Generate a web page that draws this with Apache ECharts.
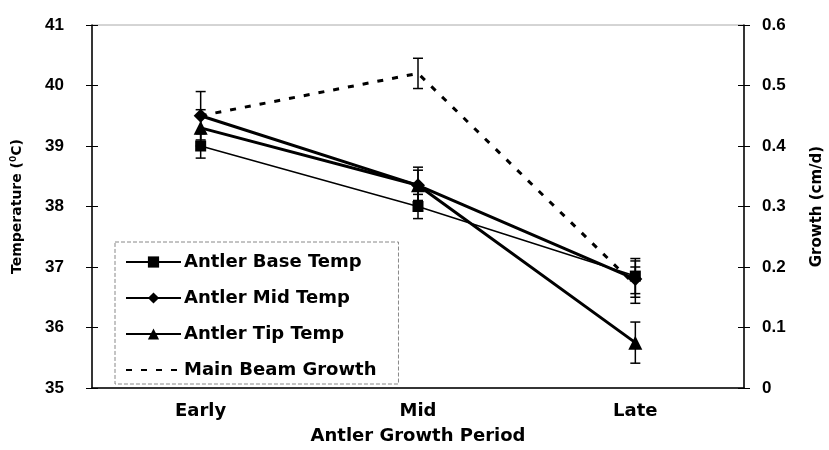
<!DOCTYPE html>
<html lang="en">
<head>
<meta charset="UTF-8">
<title>Antler temperature and growth</title>
<script src="https://cdn.jsdelivr.net/npm/echarts@6/dist/echarts.min.js"></script>
<style>
  html, body { margin: 0; padding: 0; background: #fff; }
  #chart { width: 829px; height: 450px; }
</style>
</head>
<body>
<div id="chart"></div>
<script>
var periods = ['Early', 'Mid', 'Late'];

var baseTemp = [39.0, 38.0, 36.85];
var baseErr = [0.2, 0.2, 0.29];
var midTemp = [39.5, 38.35, 36.8];
var midErr = [0.4, 0.3, 0.3];
var tipTemp = [39.3, 38.35, 35.75];
var tipErr = [0.3, 0.25, 0.34];
var growth = [0.45, 0.52, 0.17];
var growthErr = [0, 0.025, 0.03];

var wide = 'DejaVu Sans, Verdana, sans-serif';
var narrow = 'Liberation Sans, Arial, sans-serif';

function errData(vals, errs) {
    return vals.map(function (v, i) { return [i, v - errs[i], v + errs[i]]; });
}

function errSeries(vals, errs, axis) {
    return {
        type: 'custom',
        yAxisIndex: axis,
        z: 1,
        silent: true,
        data: errData(vals, errs),
        renderItem: function (params, api) {
            if (api.value(1) === api.value(2)) return null;
            var lo = api.coord([api.value(0), api.value(1)]);
            var hi = api.coord([api.value(0), api.value(2)]);
            var w = 5;
            var st = { stroke: '#000', lineWidth: 1.5 };
            return {
                type: 'group',
                children: [
                    { type: 'line', shape: { x1: lo[0], y1: lo[1], x2: hi[0], y2: hi[1] }, style: st },
                    { type: 'line', shape: { x1: lo[0] - w, y1: lo[1], x2: lo[0] + w, y2: lo[1] }, style: st },
                    { type: 'line', shape: { x1: hi[0] - w, y1: hi[1], x2: hi[0] + w, y2: hi[1] }, style: st }
                ]
            };
        }
    };
}

// hidden copy of an axis, only to draw the inner half of the crossing ticks
function innerTicks(min, max, step, side) {
    return {
        type: 'value', min: min, max: max, interval: step, position: side,
        axisLine: { show: false },
        axisLabel: { show: false },
        splitLine: { show: false },
        axisTick: { show: true, inside: true, length: 6, lineStyle: { color: '#000' } }
    };
}

var chart = echarts.init(document.getElementById('chart'));
chart.setOption({
    animation: false,
    grid: {
        left: 92, right: 85, top: 25, bottom: 62,
        containLabel: false, outerBoundsMode: 'none',
        show: true, borderColor: '#aaa', borderWidth: 1
    },
    legend: {
        data: [
            'Antler Base Temp',
            'Antler Mid Temp',
            'Antler Tip Temp',
            { name: 'Main Beam Growth', itemStyle: { opacity: 0 } }
        ],
        orient: 'vertical',
        left: 115,
        top: 242,
        padding: [11, 22, 5, 10],
        itemWidth: 55,
        itemHeight: 14,
        itemGap: 18,
        borderColor: '#888',
        borderWidth: 1,
        borderType: 'dashed',
        backgroundColor: '#fff',
        textStyle: { fontFamily: wide, fontWeight: 'bold', fontSize: 18, color: '#000', padding: [0, 0, 0, -2] }
    },
    xAxis: {
        type: 'category',
        data: periods,
        boundaryGap: true,
        name: 'Antler Growth Period',
        nameLocation: 'middle',
        nameGap: 39,
        nameTextStyle: { fontFamily: wide, fontWeight: 'bold', fontSize: 18, color: '#000' },
        axisLine: { lineStyle: { color: '#000', width: 1.5 } },
        axisTick: { length: 4, lineStyle: { color: '#000' } },
        axisLabel: { fontFamily: wide, fontWeight: 'bold', fontSize: 18, color: '#000', margin: 14 }
    },
    yAxis: [{
        type: 'value',
        min: 35,
        max: 41,
        interval: 1,
        name: 'Temperature ({s|0}C)',
        nameLocation: 'middle',
        nameRotate: 90,
        nameGap: 66,
        nameTextStyle: {
            fontFamily: wide, fontWeight: 'bold', fontSize: 14, color: '#000',
            rich: { s: { fontFamily: wide, fontWeight: 'bold', fontSize: 9, color: '#000', verticalAlign: 'top', padding: [0, 0, 8, 0] } }
        },
        splitLine: { show: false },
        axisLine: { show: true, lineStyle: { color: '#000', width: 1.5 } },
        axisTick: { show: true, length: 6, lineStyle: { color: '#000' } },
        axisLabel: { fontFamily: narrow, fontWeight: 'bold', fontSize: 17, color: '#000', margin: 28 }
    }, {
        type: 'value',
        min: 0,
        max: 0.6,
        interval: 0.1,
        position: 'right',
        name: 'Growth (cm/d)',
        nameLocation: 'middle',
        nameRotate: 90,
        nameGap: 66,
        nameTextStyle: { fontFamily: wide, fontWeight: 'bold', fontSize: 15, color: '#000' },
        splitLine: { show: false },
        axisLine: { show: true, lineStyle: { color: '#000', width: 1.5 } },
        axisTick: { show: true, length: 6, lineStyle: { color: '#000' } },
        axisLabel: { fontFamily: narrow, fontWeight: 'bold', fontSize: 17, color: '#000', margin: 18 }
    },
    innerTicks(35, 41, 1, 'left'),
    innerTicks(0, 0.6, 0.1, 'right')
    ],
    series: [
        errSeries(baseTemp, baseErr, 0),
        errSeries(midTemp, midErr, 0),
        errSeries(tipTemp, tipErr, 0),
        errSeries(growth, growthErr, 1),
        {
            name: 'Main Beam Growth',
            type: 'line',
            yAxisIndex: 1,
            data: growth,
            showSymbol: false,
            z: 2,
            lineStyle: { color: '#000', width: 3, type: [6, 9] },
            itemStyle: { color: '#000' }
        },
        {
            name: 'Antler Base Temp',
            type: 'line',
            data: baseTemp,
            symbol: 'rect',
            symbolSize: 11,
            z: 3,
            lineStyle: { color: '#000', width: 1.5 },
            itemStyle: { color: '#000' }
        },
        {
            name: 'Antler Mid Temp',
            type: 'line',
            data: midTemp,
            symbol: 'diamond',
            symbolSize: 14,
            z: 3,
            lineStyle: { color: '#000', width: 3 },
            itemStyle: { color: '#000' }
        },
        {
            name: 'Antler Tip Temp',
            type: 'line',
            data: tipTemp,
            symbol: 'triangle',
            symbolSize: 14,
            z: 3,
            lineStyle: { color: '#000', width: 3 },
            itemStyle: { color: '#000' }
        }
    ]
});
</script>
</body>
</html>
